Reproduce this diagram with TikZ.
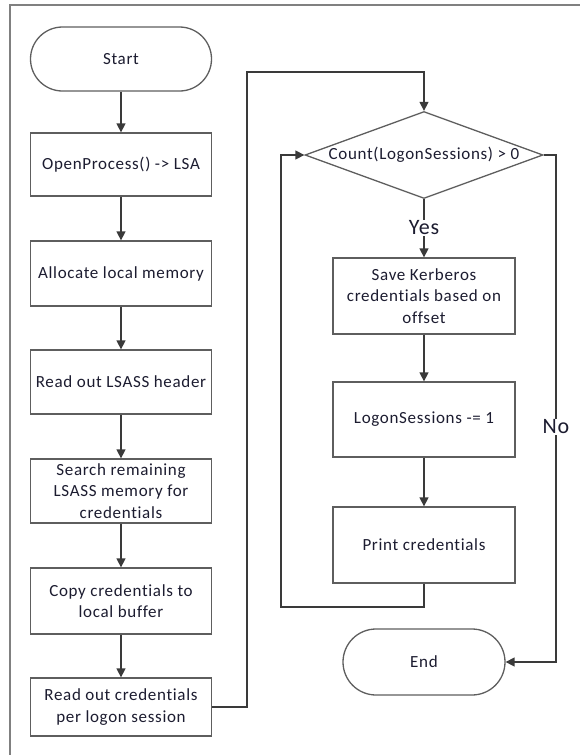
\documentclass[tikz,border=0pt]{standalone}
\usepackage{fontspec}
\setmainfont{Carlito}[LetterSpace=4,Ligatures=NoCommon]
\usetikzlibrary{arrows.meta,shapes.geometric}
\definecolor{boxline}{HTML}{5E5E5E}
\definecolor{conline}{HTML}{3A3A3A}
\definecolor{frameline}{HTML}{808080}
\definecolor{txt}{HTML}{1C1C30}
\begin{document}
\begin{tikzpicture}[x=1pt,y=-1pt,
  every node/.style={font=\fontsize{17}{21.5}\selectfont, text=txt},
  procbox/.style={draw=boxline, line width=1.3pt, fill=white, minimum width=181pt, align=center, inner sep=2pt},
  termbox/.style={draw=boxline, line width=1.3pt, fill=white, rounded corners=32pt, align=center},
  decbox/.style={diamond, draw=boxline, line width=1.3pt, inner sep=0pt, minimum width=238pt, minimum height=87pt},
  lbl/.style={fill=white, font=\fontsize{22}{24}\selectfont, inner sep=1pt},
  conn/.style={draw=conline, line width=1.4pt},
  arr/.style={conn, -{Triangle[width=9pt,length=9pt]}}]
\useasboundingbox (0,0) rectangle (579,755);
\draw[frameline, line width=1.6pt] (10,770) -- (10,5) -- (600,5);

% left column
\node[termbox, minimum width=181pt, minimum height=64pt] (start) at (121,59) {Start};
\node[procbox, minimum height=63pt] (n1) at (121,164.5) {OpenProcess() -> LSA};
\node[procbox, minimum height=65pt] (n2) at (121,273.5) {Allocate local memory};
\node[procbox, minimum height=64pt] (n3) at (121,382) {Read out LSASS header};
\node[procbox, minimum height=64pt] (n4) at (121,491) {Search remaining\\LSASS memory for\\credentials};
\node[procbox, minimum height=66pt] (n5) at (121,601) {Copy credentials to\\local buffer};
\node[procbox, minimum height=58pt] (n6) at (121,707) {Read out credentials\\per logon session};

% right column
\node[decbox] (d) at (424,155) {};
\node (dtext) at (d.center) {Count(LogonSessions) > 0};
\node[procbox, minimum width=182pt, minimum height=76pt] (save) at (424,296) {Save Kerberos\\credentials based on\\offset};
\node[procbox, minimum width=182pt, minimum height=75pt] (dec) at (424,419.5) {LogonSessions -= 1};
\node[procbox, minimum width=182pt, minimum height=76pt] (print) at (424,545) {Print credentials};
\node[termbox, minimum width=162pt, minimum height=66pt, rounded corners=33pt] (end) at (424,662) {End};

\node[lbl] (yes) at (424,228) {Yes};
\node[lbl] (no) at (556,427) {No};

\coordinate (a1) at (247,707);
\coordinate (a2) at (247,72);
\coordinate (a3) at (424,72);
\coordinate (b1) at (424,607);
\coordinate (b2) at (281,607);
\coordinate (b3) at (281,155);
\coordinate (c1) at (556,155);
\coordinate (c2) at (556,662);

% connectors
\draw[arr] (start) -- (n1);
\draw[arr] (n1) -- (n2);
\draw[arr] (n2) -- (n3);
\draw[arr] (n3) -- (n4);
\draw[arr] (n4) -- (n5);
\draw[arr] (n5) -- (n6);
\draw[arr] (n6.east) -- (a1) -- (a2) -- (a3) -- (d.north);
\draw[conn] (d.south) -- (yes.north);
\draw[arr] (yes.south) -- (save.north);
\draw[arr] (save) -- (dec);
\draw[arr] (dec) -- (print);
\draw[arr] (print.south) -- (b1) -- (b2) -- (b3) -- (d.west);
\draw[conn] (d.east) -- (c1) -- (no.north);
\draw[arr] (no.south) -- (c2) -- (end.east);
\end{tikzpicture}
\end{document}
